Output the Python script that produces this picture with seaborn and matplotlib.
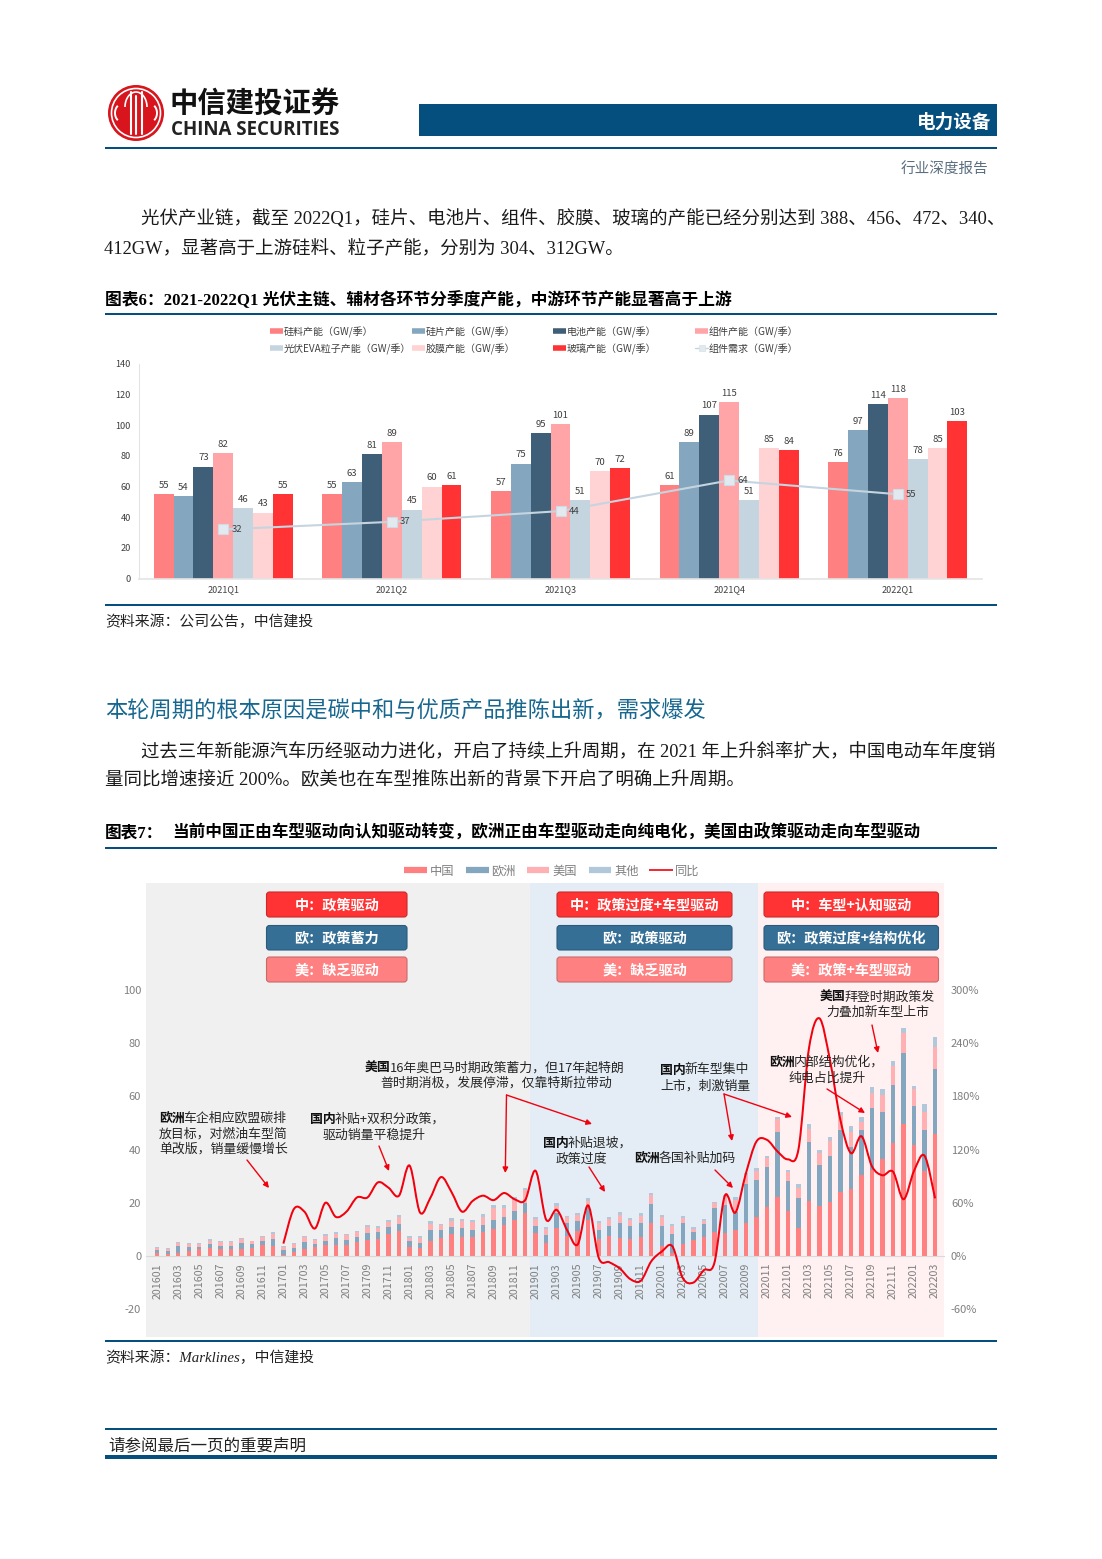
import numpy as np
import pandas as pd
import matplotlib
matplotlib.use("Agg")
import matplotlib.pyplot as plt
from matplotlib.patches import FancyBboxPatch, PathPatch, Circle, Arc, Rectangle
from matplotlib.path import Path
import seaborn as sns

sns.set_theme(style="white")
plt.rcParams['font.family'] = ['Noto Sans CJK SC', 'DejaVu Sans']
plt.rcParams['axes.unicode_minus'] = False

W, H = 1102, 1559
SERIF = ['Liberation Serif', 'Noto Sans CJK SC']
NAVY = '#054f7e'

# figure 6: quarterly capacity
quarters = ['2021Q1', '2021Q2', '2021Q3', '2021Q4', '2022Q1']
silicon = [55, 55, 57, 61, 76]
wafer = [54, 63, 75, 89, 97]
cell = [73, 81, 95, 107, 114]
module = [82, 89, 101, 115, 118]
eva = [46, 45, 51, 51, 78]
film = [43, 60, 70, 85, 85]
glass = [55, 61, 72, 84, 103]
demand = [32, 37, 44, 64, 55]

cap_names = ['硅料产能（GW/季）', '硅片产能（GW/季）', '电池产能（GW/季）', '组件产能（GW/季）',
             '光伏EVA粒子产能（GW/季）', '胶膜产能（GW/季）', '玻璃产能（GW/季）']
cap_colors = ['#ff8080', '#84a6bf', '#3f5f78', '#ffa5a8', '#c5d5e0', '#ffd2d3', '#ff3333']
demand_name = '组件需求（GW/季）'

# figure 7: monthly EV sales, 201601-202203
months = [f"{y}{m:02d}" for y in range(2016, 2023) for m in range(1, 13)][:75]
china = [1.2, 0.9, 1.3, 1.8, 2.5, 3.1, 2.6, 2.7, 2.8, 3.1, 4.1, 3.6,
         0.4, 1.5, 2.6, 3.2, 4.0, 4.2, 4.2, 5.3, 5.9, 6.4, 8.3, 9.3,
         3.3, 3.1, 5.6, 6.9, 8.3, 7.1, 7.2, 8.9, 10.3, 11.7, 13.5, 16.0,
         8.5, 4.8, 10.6, 7.5, 9.5, 13.5, 6.3, 7.6, 6.9, 6.3, 7.3, 12.3,
         3.9, 1.0, 4.5, 6.0, 7.0, 9.0, 8.5, 9.9, 12.3, 14.7, 18.4, 22.0,
         16.9, 10.5, 20.8, 18.9, 20.2, 24.0, 25.2, 30.3, 32.3, 36.5, 42.4, 49.6,
         41.6, 32.0, 46.0]
europe = [1.2, 1.1, 2.4, 1.6, 1.0, 1.5, 1.3, 1.2, 2.2, 1.4, 1.6, 2.6,
          1.9, 1.6, 2.7, 1.4, 1.7, 2.5, 1.8, 1.9, 2.8, 2.6, 2.7, 2.8,
          2.2, 1.9, 4.1, 2.8, 2.7, 3.6, 2.5, 2.8, 3.2, 3.0, 3.4, 4.0,
          2.9, 3.0, 5.4, 4.9, 3.5, 5.4, 3.5, 3.6, 5.6, 4.9, 5.2, 7.2,
          7.4, 7.1, 7.9, 3.0, 5.0, 8.9, 10.7, 6.8, 14.7, 13.9, 14.9, 24.7,
          11.1, 11.2, 22.1, 15.3, 17.4, 23.2, 15.8, 17.1, 23.3, 17.5, 21.8, 26.7,
          14.8, 15.4, 24.3]
usa = [0.5, 0.8, 1.1, 1.0, 1.1, 1.2, 1.3, 1.3, 1.3, 1.0, 1.3, 2.2,
       0.9, 1.3, 1.9, 1.3, 1.9, 1.7, 1.9, 1.7, 2.3, 1.6, 1.8, 2.7,
       1.4, 1.9, 2.4, 1.8, 2.2, 2.3, 2.9, 3.0, 4.5, 3.5, 4.1, 4.7,
       2.5, 2.5, 2.9, 2.3, 2.4, 1.9, 2.5, 2.6, 2.8, 2.3, 2.7, 3.5,
       3.4, 3.2, 1.9, 1.0, 1.2, 1.9, 2.9, 4.3, 3.5, 3.4, 3.4, 4.7,
       3.7, 4.0, 5.0, 4.4, 5.6, 5.8, 5.7, 2.9, 5.7, 6.7, 7.1, 7.7,
       6.3, 6.9, 8.1]
others = [0.4, 0.3, 0.4, 0.4, 0.4, 0.4, 0.3, 0.4, 0.4, 0.3, 0.5, 0.5,
          0.4, 0.5, 0.5, 0.4, 0.6, 0.5, 0.4, 0.4, 0.6, 0.5, 0.7, 0.7,
          0.5, 0.5, 0.9, 0.5, 0.9, 0.8, 0.8, 0.9, 1.0, 1.0, 1.0, 0.8,
          0.8, 0.6, 1.0, 0.5, 0.9, 1.0, 0.9, 0.9, 1.1, 0.7, 0.8, 0.8,
          0.7, 0.9, 0.7, 0.8, 0.7, 0.6, 0.7, 1.0, 0.8, 1.0, 0.9, 0.8,
          0.6, 1.2, 1.7, 1.2, 1.4, 1.3, 2.0, 1.8, 2.2, 2.0, 1.9, 1.8,
          1.3, 2.7, 3.8]
yoy = [14, 53, 50, 31, 60, 44, 50, 66, 66, 83, 77, 68,
       102, 49, 66, 89, 72, 50, 62, 68, 63, 71, 64, 63,
       96, 41, 52, 29, 13, 57, -2, -7, -14, -26, -28, -6,
       5, 11, -25, -30, -16, -8, 68, 49, 93, 129, 131, 118,
       109, 120, 234, 268, 221, 153, 116, 135, 101, 91, 95, 64,
       96, 113, 65]

sales_names = ['中国', '欧洲', '美国', '其他']
sales_colors = ['#ff8080', '#84a6bf', '#ffb0b2', '#b1c8da']
yoy_name = '同比'


def px_axes(fig, left, top, right, bottom):
    return fig.add_axes([left / W, 1 - bottom / H, (right - left) / W, (bottom - top) / H])


def smooth_path(x, y):
    # same kind of smoothing as the spreadsheet's line option, bezier through every point
    pts = np.column_stack([x, y]).astype(float)
    verts = [pts[0]]
    codes = [Path.MOVETO]
    for i in range(len(pts) - 1):
        p0 = pts[max(i - 1, 0)]
        p1 = pts[i]
        p2 = pts[i + 1]
        p3 = pts[min(i + 2, len(pts) - 1)]
        verts += [p1 + (p2 - p0) / 6, p2 - (p3 - p1) / 6, p2]
        codes += [Path.CURVE4] * 3
    return Path(verts, codes)


fig = plt.figure(figsize=(W / 100, H / 100), dpi=100, facecolor='white')

# ---------- top chart ----------
ax = px_axes(fig, 139, 364, 982, 578.5)
cap_df = pd.DataFrame({'quarter': quarters * 7,
                       'value': silicon + wafer + cell + module + eva + film + glass,
                       'series': [n for n in cap_names for _ in quarters]})
sns.barplot(data=cap_df, x='quarter', y='value', hue='series', hue_order=cap_names,
            palette=cap_colors, saturation=1, width=0.825, gap=0, legend=False,
            errorbar=None, ax=ax, linewidth=0)
for c in ax.containers:
    ax.bar_label(c, fmt='%d', padding=3, fontsize=6.9, color='#404040')
sns.lineplot(x=np.arange(5), y=demand, color='#c5d5e0', linewidth=1.5, marker='s',
             markersize=7.5, markerfacecolor='#e2eaf0', markeredgecolor='#cfdce6',
             markeredgewidth=0.8, errorbar=None, ax=ax)
for i, v in enumerate(demand):
    ax.annotate(str(v), (i, v), xytext=(6, 0), textcoords='offset points',
                ha='left', va='center', fontsize=6.9, color='#404040')
ax.set_xlim(-0.5, 4.5)
ax.set_ylim(0, 140)
ax.set_yticks(np.arange(0, 141, 20))
ax.set_xlabel('')
ax.set_ylabel('')
ax.tick_params(axis='y', labelsize=6.6, labelcolor='#404040', length=2, width=0.6,
               color='#e0e0e0', pad=4)
ax.tick_params(axis='x', labelsize=6.5, labelcolor='#404040', length=0, pad=5)
sns.despine(ax=ax)
for s in ['left', 'bottom']:
    ax.spines[s].set_color('#e4e4e4')
ax.spines['left'].set_linewidth(0.8)
ax.spines['bottom'].set_linewidth(1.2)

# ---------- bottom chart ----------
ax3 = px_axes(fig, 146, 883, 944, 1337)
ax3.axvspan(-1.07, 35.5, color='#f0f0f0', lw=0, zorder=0)
ax3.axvspan(35.5, 57.2, color='#e4edf5', lw=0, zorder=0)
ax3.axvspan(57.2, 74.85, color='#fff1f1', lw=0, zorder=0)
base = np.zeros(len(months))
for vals, name, col in zip([china, europe, usa, others], sales_names, sales_colors):
    sns.barplot(x=months, y=vals, bottom=base, color=col, saturation=1, width=0.42,
                errorbar=None, ax=ax3, linewidth=0, zorder=2)
    base = base + np.array(vals)
ax3.set_xlim(-1.07, 74.85)
ax3.set_ylim(-30.45, 140.2)
ax3.set_yticks(np.arange(-20, 101, 20))
ax3.set_xticks(np.arange(0, 75, 2))
ax3.set_xticklabels(months[::2])
ax3.set_xticks(np.arange(-0.5, 75, 2), minor=True)
ax3.tick_params(axis='x', which='major', labelsize=7.7, labelcolor='#7f7f7f', length=0, pad=5,
                labelrotation=90)
ax3.tick_params(axis='x', which='minor', length=2.5, width=0.7, color='#d9d9d9')
ax3.tick_params(axis='y', labelsize=8, labelcolor='#7f7f7f', length=0, pad=3.5)
sns.despine(ax=ax3, left=True)
ax3.spines['bottom'].set_position(('data', 0))
ax3.spines['bottom'].set_color('#d9d9d9')
ax3.spines['bottom'].set_linewidth(0.8)
ax3.set_ylabel('')

ax4 = ax3.twinx()
ax4.set_ylim(-30.45 * 3, 140.2 * 3)
ax4.set_yticks(np.arange(-60, 301, 60))
ax4.set_yticklabels([f'{v}%' for v in np.arange(-60, 301, 60)])
ax4.tick_params(axis='y', labelsize=8, labelcolor='#7f7f7f', length=0, pad=5)
for s in ax4.spines.values():
    s.set_visible(False)
ax4.add_patch(PathPatch(smooth_path(np.arange(12, 75), yoy), fill=False, edgecolor='#f2000d',
                        linewidth=1.45, zorder=5))

# ---------- page furniture, pixel coordinates ----------
page = fig.add_axes([0, 0, 1, 1], zorder=10)
page.set_xlim(0, W)
page.set_ylim(H, 0)
page.axis('off')
page.patch.set_alpha(0)
renderer = fig.canvas.get_renderer()


def rule(y, lw=2):
    page.add_patch(Rectangle((105, y - lw / 2), 892, lw, color=NAVY, lw=0))


def txt(x, y, s, size, **kw):
    kw.setdefault('va', 'center')
    kw.setdefault('color', '#1a1a1a')
    return page.text(x, y + 2, s, fontsize=size, **kw)


def note(x, y, bold, rest):
    left = x
    if bold:
        t = txt(x, y, bold, 9.3, weight='bold', color='#111111')
        left = x + t.get_window_extent(renderer).width - 1
    txt(left, y, rest, 9.3, color='#262626')


def arrow(start, end):
    page.annotate('', xy=end, xytext=start,
                  arrowprops=dict(arrowstyle='-|>', color='#f2000d', lw=1, mutation_scale=8,
                                  shrinkA=0, shrinkB=0))


def swatch(x0, x1, y, label, col, tx, size, thick, tcol):
    page.plot([x0, x1], [y, y], color=col, lw=thick, solid_capstyle='butt')
    txt(tx, y - 1, label, size, color=tcol)


def tag(x0, x1, y0, y1, label, face, edge):
    page.add_patch(FancyBboxPatch((x0 + 3, y0 + 3), x1 - x0 - 6, y1 - y0 - 6,
                                  boxstyle='round,pad=3', facecolor=face, edgecolor=edge, lw=0.8))
    txt((x0 + x1) / 2, (y0 + y1) / 2 - 1, label, 10.2, ha='center', color='white', weight='bold')


# logo
page.add_patch(Circle((136, 113), 28, color='#d8141c', lw=0))
page.add_patch(Circle((136, 113), 24.5, fill=False, edgecolor='white', lw=1.2))
for dx in [-5.5, 5.5]:
    page.plot([136 + dx, 136 + dx], [92, 134], color='white', lw=1.5)
page.plot([136, 136], [96, 134], color='white', lw=1.5)
page.add_patch(Arc((136, 107), 22, 30, theta1=180, theta2=360, edgecolor='white', lw=1.2))
for cx, t1, t2 in [(122, 300, 60), (150, 120, 240)]:
    page.add_patch(Arc((cx, 113), 14, 18, theta1=t1 + 180, theta2=t2 + 180, edgecolor='white', lw=1.4))
txt(170, 102, '中信建投证券', 20.4, weight='bold', color='#111111')
txt(171, 128, 'CHINA SECURITIES', 13.5, family='Open Sans', weight='bold', color='#222222')

page.add_patch(Rectangle((419, 104), 578, 32, color=NAVY, lw=0))
txt(991, 120.5, '电力设备', 13.4, ha='right', color='white', weight='bold')
rule(147.5)
txt(988, 168, '行业深度报告', 10.5, ha='right', color='#5b6f80')

txt(141, 217, '光伏产业链，截至 2022Q1，硅片、电池片、组件、胶膜、玻璃的产能已经分别达到 388、456、472、340、',
    13.3, family=SERIF)
txt(104, 246, '412GW，显著高于上游硅料、粒子产能，分别为 304、312GW。', 13.3, family=SERIF)
txt(105, 298, '图表6：2021-2022Q1 光伏主链、辅材各环节分季度产能，中游环节产能显著高于上游', 12.1,
    family=SERIF, weight='bold', color='#000000')
rule(314)

for x0, x1, tx, y, name, col in [(270, 283, 284, 331, cap_names[0], cap_colors[0]),
                                 (412, 425, 426, 331, cap_names[1], cap_colors[1]),
                                 (553, 566, 567, 331, cap_names[2], cap_colors[2]),
                                 (695, 708, 709, 331, cap_names[3], cap_colors[3]),
                                 (270, 283, 284, 348, cap_names[4], cap_colors[4]),
                                 (412, 425, 426, 348, cap_names[5], cap_colors[5]),
                                 (553, 566, 567, 348, cap_names[6], cap_colors[6])]:
    swatch(x0, x1, y, name, col, tx, 7.2, 4, '#404040')
page.plot([695, 708], [348, 348], color='#c5d5e0', lw=1)
page.plot([701.5], [348], 's', ms=4.5, mfc='#e2eaf0', mec='#d5e0e8', mew=0.5)
txt(709, 347, demand_name, 7.2, color='#404040')

rule(605)
txt(105, 620, '资料来源：公司公告，中信建投', 10.7, family=SERIF, style='italic', color='#222222')

txt(105, 708, '本轮周期的根本原因是碳中和与优质产品推陈出新，需求爆发', 16, color='#17678f')
txt(141, 750, '过去三年新能源汽车历经驱动力进化，开启了持续上升周期，在 2021 年上升斜率扩大，中国电动车年度销',
    13.23, family=SERIF)
txt(105, 778, '量同比增速接近 200%。欧美也在车型推陈出新的背景下开启了明确上升周期。', 13.3, family=SERIF)
txt(105, 831, '图表7：', 12, family=SERIF, weight='bold', color='#000000')
txt(172, 831, '当前中国正由车型驱动向认知驱动转变，欧洲正由车型驱动走向纯电化，美国由政策驱动走向车型驱动', 12,
    family=SERIF, weight='bold', color='#000000')
rule(847.5)

for x0, x1, tx, name, col in [(404, 427, 430, sales_names[0], sales_colors[0]),
                              (466, 489, 491, sales_names[1], sales_colors[1]),
                              (527, 549, 552, sales_names[2], sales_colors[2]),
                              (589, 611, 614, sales_names[3], sales_colors[3])]:
    swatch(x0, x1, 870, name, col, tx, 8.8, 4.5, '#7f7f7f')
swatch(649, 673, 870, yoy_name, '#f2000d', 675, 8.8, 1.2, '#7f7f7f')

RED, BLUE, PINK = ('#ff3333', '#c92a2a'), ('#366f96', '#2b5a7c'), ('#ff8080', '#c96a6a')
for x0, x1, labels in [(266.5, 407, ['中：政策驱动', '欧：政策蓄力', '美：缺乏驱动']),
                       (557, 732, ['中：政策过度+车型驱动', '欧：政策驱动', '美：缺乏驱动']),
                       (764, 938.5, ['中：车型+认知驱动', '欧：政策过度+结构优化', '美：政策+车型驱动'])]:
    for (y0, y1), lab, (face, edge) in zip([(892, 917), (925.5, 950), (957, 982)], labels,
                                           [RED, BLUE, PINK]):
        tag(x0, x1, y0, y1, lab, face, edge)

note(159, 1116, '欧洲', '车企相应欧盟碳排')
note(159, 1132, '', '放目标，对燃油车型简')
note(159, 1147, '', '单改版，销量缓慢增长')
note(310, 1117, '国内', '补贴+双积分政策，')
note(323, 1133, '', '驱动销量平稳提升')
note(365, 1066, '美国', '16年奥巴马时期政策蓄力，但17年起特朗')
note(380, 1081, '', '普时期消极，发展停滞，仅靠特斯拉带动')
note(543, 1141, '国内', '补贴退坡，')
note(556, 1157, '', '政策过度')
note(634, 1156, '欧洲', '各国补贴加码')
note(660, 1068, '国内', '新车型集中')
note(660, 1084, '', '上市，刺激销量')
note(769, 1060, '欧洲', '内部结构优化，')
note(788, 1076, '', '纯电占比提升')
note(820, 995, '美国', '拜登时期政策发')
note(826, 1010, '', '力叠加新车型上市')

arrow((247, 1160), (269, 1188))
arrow((379, 1146), (389, 1171))
arrow((506.5, 1095), (505.3, 1173))
arrow((506.5, 1095), (592, 1124))
arrow((589, 1167), (605, 1192))
arrow((715, 1170), (733, 1188))
arrow((724, 1094), (732, 1141))
arrow((724, 1094), (792, 1117))
arrow((827, 1089), (865, 1113))
arrow((872, 1025), (878, 1053))

rule(1341)
txt(105, 1356, '资料来源：Marklines，中信建投', 10.7, family=SERIF, style='italic', color='#222222')
rule(1429)
txt(108, 1444, '请参阅最后一页的重要声明', 11.9, family=SERIF, color='#222222')
rule(1457, lw=3.5)

fig.savefig('out.png', dpi=100)
